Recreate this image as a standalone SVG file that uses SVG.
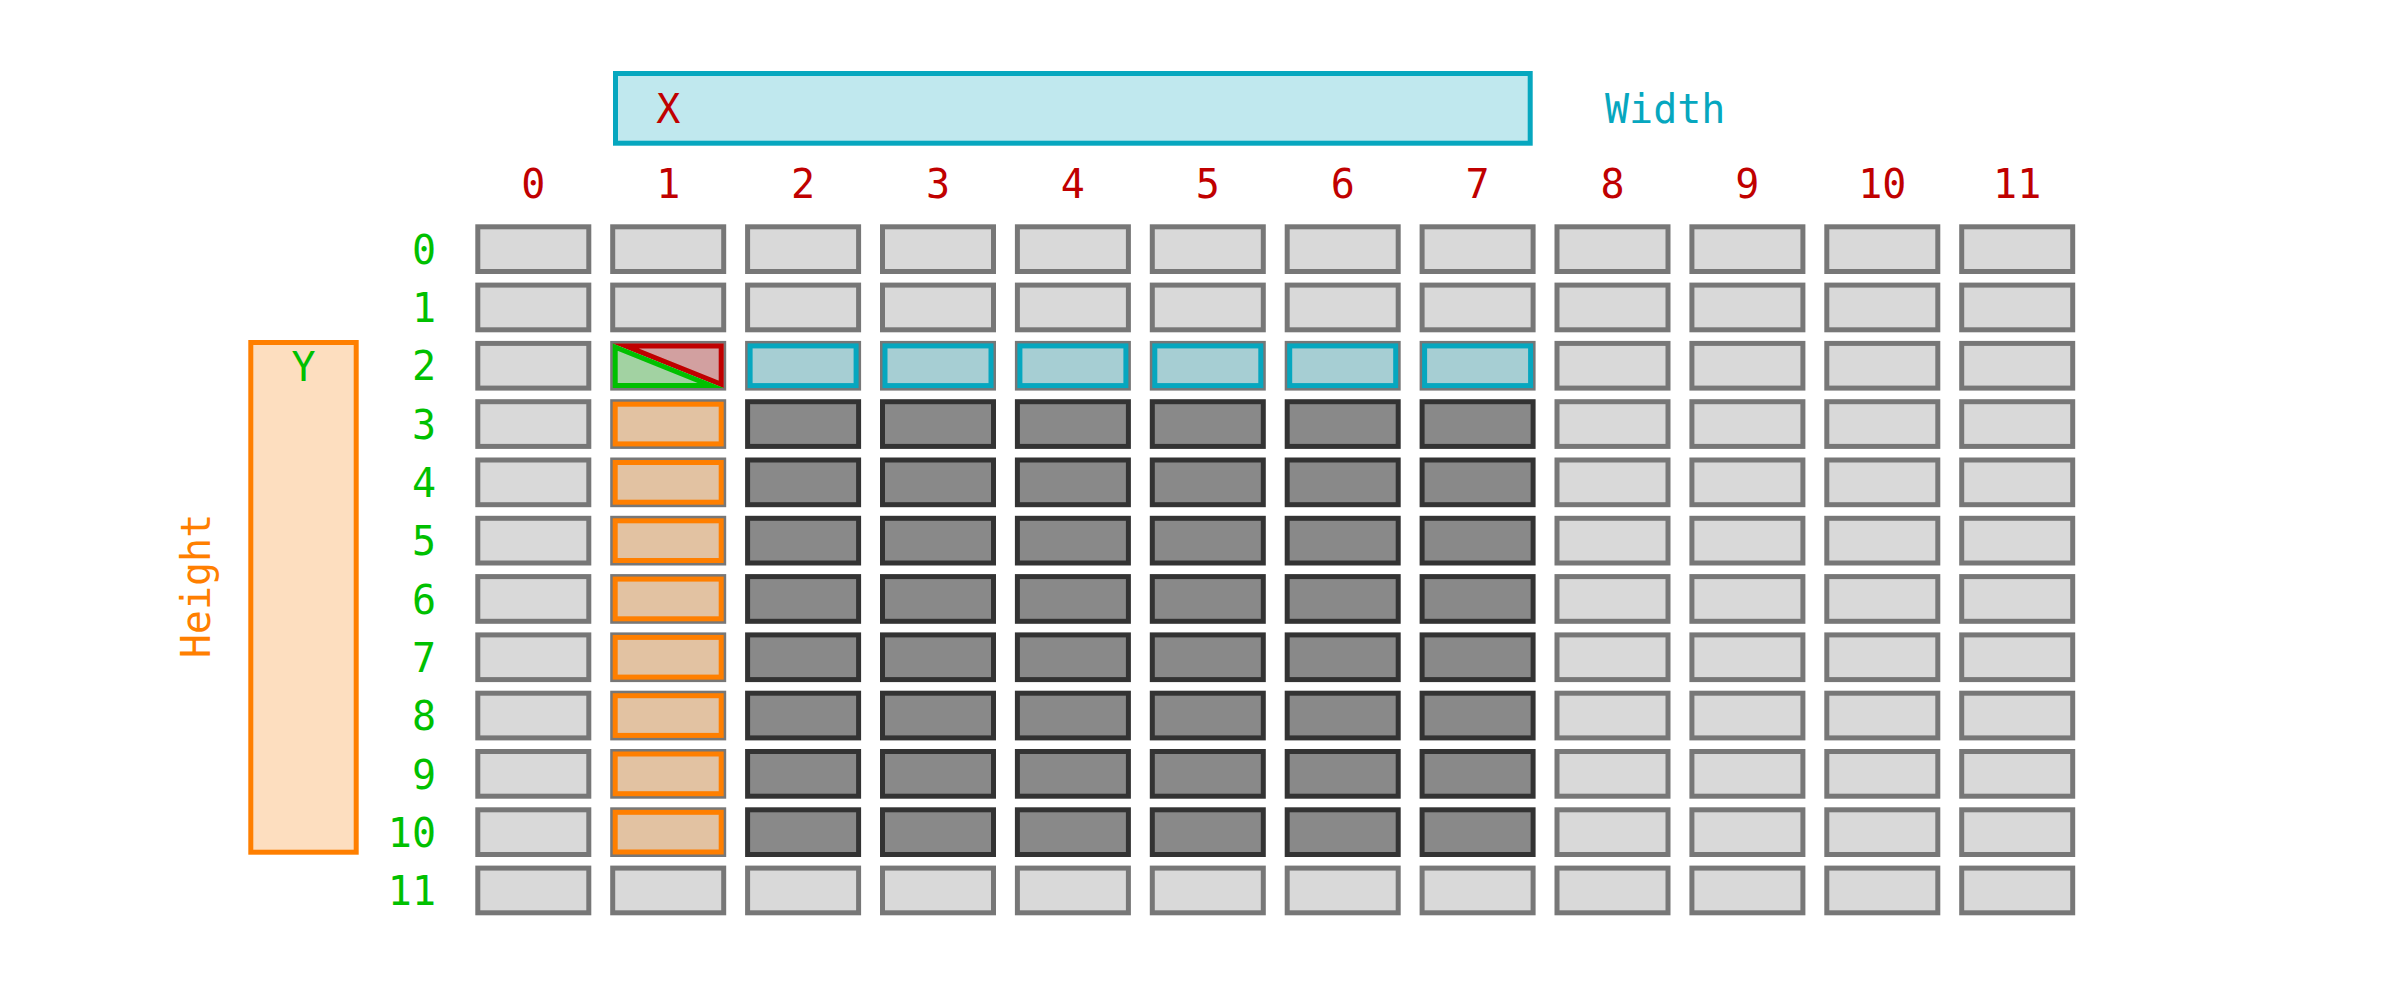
<svg xmlns="http://www.w3.org/2000/svg" width="2407" height="988" viewBox="0 0 2407 988">
<style>
text{font-family:"DejaVu Sans Mono","Liberation Mono",monospace;font-size:40px}
.c{fill:#d9d9d9;stroke:#777;stroke-width:5}
.d{fill:#898989;stroke:#333;stroke-width:5}
.b{fill:#a6ced3;stroke:#06a7bf;stroke-width:5}
.o{fill:#e2c2a2;stroke:#ff7f00;stroke-width:5}
.cl{fill:#c00000;text-anchor:middle}
.rl{fill:#00c000;text-anchor:end}
</style>
<defs>
<clipPath id="clipR"><polygon points="612.7,343.4 723.7,343.4 723.7,388.1"/></clipPath>
<clipPath id="clipG"><polygon points="612.7,343.4 612.7,388.1 723.7,388.1"/></clipPath>
</defs>
<rect width="2407" height="988" fill="#fff"/>
<g id="xbox"><rect x="615.5" y="73.5" width="914.7" height="69.7" fill="#c0e8ee" stroke="#06a7bf" stroke-width="5"/><text x="668.2" y="122.7" class="cl">X</text></g>
<g id="width-label"><text x="1605" y="122.7" fill="#06a7bf">Width</text></g>
<g id="ybox"><rect x="250.8" y="342.5" width="105.4" height="509.7" fill="#fddebf" stroke="#ff7f00" stroke-width="5"/><text x="303.5" y="380.6" fill="#00c000" text-anchor="middle">Y</text></g>
<g id="height-label"><text transform="translate(210,586) rotate(-90)" fill="#ff7f00" text-anchor="middle">Height</text></g>
<g id="col-labels">
<text x="533.3" y="197.7" class="cl">0</text><text x="668.2" y="197.7" class="cl">1</text><text x="803.1" y="197.7" class="cl">2</text><text x="938" y="197.7" class="cl">3</text><text x="1072.9" y="197.7" class="cl">4</text><text x="1207.8" y="197.7" class="cl">5</text><text x="1342.7" y="197.7" class="cl">6</text><text x="1477.6" y="197.7" class="cl">7</text><text x="1612.5" y="197.7" class="cl">8</text><text x="1747.4" y="197.7" class="cl">9</text><text x="1882.3" y="197.7" class="cl">10</text><text x="2017.2" y="197.7" class="cl">11</text>
</g>
<g id="row-labels">
<text x="436" y="263.8" class="rl">0</text><text x="436" y="322.1" class="rl">1</text><text x="436" y="380.4" class="rl">2</text><text x="436" y="438.7" class="rl">3</text><text x="436" y="497" class="rl">4</text><text x="436" y="555.3" class="rl">5</text><text x="436" y="613.6" class="rl">6</text><text x="436" y="671.9" class="rl">7</text><text x="436" y="730.2" class="rl">8</text><text x="436" y="788.5" class="rl">9</text><text x="436" y="846.8" class="rl">10</text><text x="436" y="905.1" class="rl">11</text>
</g>
<g id="row0"><rect x="477.8" y="226.8" width="111" height="44.7" class="c"/><rect x="612.7" y="226.8" width="111" height="44.7" class="c"/><rect x="747.6" y="226.8" width="111" height="44.7" class="c"/><rect x="882.5" y="226.8" width="111" height="44.7" class="c"/><rect x="1017.4" y="226.8" width="111" height="44.7" class="c"/><rect x="1152.3" y="226.8" width="111" height="44.7" class="c"/><rect x="1287.2" y="226.8" width="111" height="44.7" class="c"/><rect x="1422.1" y="226.8" width="111" height="44.7" class="c"/><rect x="1557" y="226.8" width="111" height="44.7" class="c"/><rect x="1691.9" y="226.8" width="111" height="44.7" class="c"/><rect x="1826.8" y="226.8" width="111" height="44.7" class="c"/><rect x="1961.7" y="226.8" width="111" height="44.7" class="c"/></g>
<g id="row1"><rect x="477.8" y="285.1" width="111" height="44.7" class="c"/><rect x="612.7" y="285.1" width="111" height="44.7" class="c"/><rect x="747.6" y="285.1" width="111" height="44.7" class="c"/><rect x="882.5" y="285.1" width="111" height="44.7" class="c"/><rect x="1017.4" y="285.1" width="111" height="44.7" class="c"/><rect x="1152.3" y="285.1" width="111" height="44.7" class="c"/><rect x="1287.2" y="285.1" width="111" height="44.7" class="c"/><rect x="1422.1" y="285.1" width="111" height="44.7" class="c"/><rect x="1557" y="285.1" width="111" height="44.7" class="c"/><rect x="1691.9" y="285.1" width="111" height="44.7" class="c"/><rect x="1826.8" y="285.1" width="111" height="44.7" class="c"/><rect x="1961.7" y="285.1" width="111" height="44.7" class="c"/></g>
<g id="row2"><rect x="477.8" y="343.4" width="111" height="44.7" class="c"/><rect x="612.7" y="343.4" width="111" height="44.7" class="c"/><rect x="747.6" y="343.4" width="111" height="44.7" class="c"/><rect x="882.5" y="343.4" width="111" height="44.7" class="c"/><rect x="1017.4" y="343.4" width="111" height="44.7" class="c"/><rect x="1152.3" y="343.4" width="111" height="44.7" class="c"/><rect x="1287.2" y="343.4" width="111" height="44.7" class="c"/><rect x="1422.1" y="343.4" width="111" height="44.7" class="c"/><rect x="1557" y="343.4" width="111" height="44.7" class="c"/><rect x="1691.9" y="343.4" width="111" height="44.7" class="c"/><rect x="1826.8" y="343.4" width="111" height="44.7" class="c"/><rect x="1961.7" y="343.4" width="111" height="44.7" class="c"/>
<rect x="750.1" y="345.9" width="106" height="39.7" class="b"/><rect x="885" y="345.9" width="106" height="39.7" class="b"/><rect x="1019.9" y="345.9" width="106" height="39.7" class="b"/><rect x="1154.8" y="345.9" width="106" height="39.7" class="b"/><rect x="1289.7" y="345.9" width="106" height="39.7" class="b"/><rect x="1424.6" y="345.9" width="106" height="39.7" class="b"/>
<g id="origin-cell"><polygon points="612.7,343.4 723.7,343.4 723.7,388.1" fill="#d2a0a0" stroke="#c00000" stroke-width="10" clip-path="url(#clipR)"/><polygon points="612.7,343.4 612.7,388.1 723.7,388.1" fill="#a2d2a2" stroke="#00c000" stroke-width="10" clip-path="url(#clipG)"/></g>
</g>
<g id="row3"><rect x="477.8" y="401.7" width="111" height="44.7" class="c"/><rect x="612.7" y="401.7" width="111" height="44.7" class="c"/><rect x="615.2" y="404.2" width="106" height="39.7" class="o"/><rect x="747.6" y="401.7" width="111" height="44.7" class="d"/><rect x="882.5" y="401.7" width="111" height="44.7" class="d"/><rect x="1017.4" y="401.7" width="111" height="44.7" class="d"/><rect x="1152.3" y="401.7" width="111" height="44.7" class="d"/><rect x="1287.2" y="401.7" width="111" height="44.7" class="d"/><rect x="1422.1" y="401.7" width="111" height="44.7" class="d"/><rect x="1557" y="401.7" width="111" height="44.7" class="c"/><rect x="1691.9" y="401.7" width="111" height="44.7" class="c"/><rect x="1826.8" y="401.7" width="111" height="44.7" class="c"/><rect x="1961.7" y="401.7" width="111" height="44.7" class="c"/></g>
<g id="row4"><rect x="477.8" y="460" width="111" height="44.7" class="c"/><rect x="612.7" y="460" width="111" height="44.7" class="c"/><rect x="615.2" y="462.5" width="106" height="39.7" class="o"/><rect x="747.6" y="460" width="111" height="44.7" class="d"/><rect x="882.5" y="460" width="111" height="44.7" class="d"/><rect x="1017.4" y="460" width="111" height="44.7" class="d"/><rect x="1152.3" y="460" width="111" height="44.7" class="d"/><rect x="1287.2" y="460" width="111" height="44.7" class="d"/><rect x="1422.1" y="460" width="111" height="44.7" class="d"/><rect x="1557" y="460" width="111" height="44.7" class="c"/><rect x="1691.9" y="460" width="111" height="44.7" class="c"/><rect x="1826.8" y="460" width="111" height="44.7" class="c"/><rect x="1961.7" y="460" width="111" height="44.7" class="c"/></g>
<g id="row5"><rect x="477.8" y="518.3" width="111" height="44.7" class="c"/><rect x="612.7" y="518.3" width="111" height="44.7" class="c"/><rect x="615.2" y="520.8" width="106" height="39.7" class="o"/><rect x="747.6" y="518.3" width="111" height="44.7" class="d"/><rect x="882.5" y="518.3" width="111" height="44.7" class="d"/><rect x="1017.4" y="518.3" width="111" height="44.7" class="d"/><rect x="1152.3" y="518.3" width="111" height="44.7" class="d"/><rect x="1287.2" y="518.3" width="111" height="44.7" class="d"/><rect x="1422.1" y="518.3" width="111" height="44.7" class="d"/><rect x="1557" y="518.3" width="111" height="44.7" class="c"/><rect x="1691.9" y="518.3" width="111" height="44.7" class="c"/><rect x="1826.8" y="518.3" width="111" height="44.7" class="c"/><rect x="1961.7" y="518.3" width="111" height="44.7" class="c"/></g>
<g id="row6"><rect x="477.8" y="576.6" width="111" height="44.7" class="c"/><rect x="612.7" y="576.6" width="111" height="44.7" class="c"/><rect x="615.2" y="579.1" width="106" height="39.7" class="o"/><rect x="747.6" y="576.6" width="111" height="44.7" class="d"/><rect x="882.5" y="576.6" width="111" height="44.7" class="d"/><rect x="1017.4" y="576.6" width="111" height="44.7" class="d"/><rect x="1152.3" y="576.6" width="111" height="44.7" class="d"/><rect x="1287.2" y="576.6" width="111" height="44.7" class="d"/><rect x="1422.1" y="576.6" width="111" height="44.7" class="d"/><rect x="1557" y="576.6" width="111" height="44.7" class="c"/><rect x="1691.9" y="576.6" width="111" height="44.7" class="c"/><rect x="1826.8" y="576.6" width="111" height="44.7" class="c"/><rect x="1961.7" y="576.6" width="111" height="44.7" class="c"/></g>
<g id="row7"><rect x="477.8" y="634.9" width="111" height="44.7" class="c"/><rect x="612.7" y="634.9" width="111" height="44.7" class="c"/><rect x="615.2" y="637.4" width="106" height="39.7" class="o"/><rect x="747.6" y="634.9" width="111" height="44.7" class="d"/><rect x="882.5" y="634.9" width="111" height="44.7" class="d"/><rect x="1017.4" y="634.9" width="111" height="44.7" class="d"/><rect x="1152.3" y="634.9" width="111" height="44.7" class="d"/><rect x="1287.2" y="634.9" width="111" height="44.7" class="d"/><rect x="1422.1" y="634.9" width="111" height="44.7" class="d"/><rect x="1557" y="634.9" width="111" height="44.7" class="c"/><rect x="1691.9" y="634.9" width="111" height="44.7" class="c"/><rect x="1826.8" y="634.9" width="111" height="44.7" class="c"/><rect x="1961.7" y="634.9" width="111" height="44.7" class="c"/></g>
<g id="row8"><rect x="477.8" y="693.2" width="111" height="44.7" class="c"/><rect x="612.7" y="693.2" width="111" height="44.7" class="c"/><rect x="615.2" y="695.7" width="106" height="39.7" class="o"/><rect x="747.6" y="693.2" width="111" height="44.7" class="d"/><rect x="882.5" y="693.2" width="111" height="44.7" class="d"/><rect x="1017.4" y="693.2" width="111" height="44.7" class="d"/><rect x="1152.3" y="693.2" width="111" height="44.7" class="d"/><rect x="1287.2" y="693.2" width="111" height="44.7" class="d"/><rect x="1422.1" y="693.2" width="111" height="44.7" class="d"/><rect x="1557" y="693.2" width="111" height="44.7" class="c"/><rect x="1691.9" y="693.2" width="111" height="44.7" class="c"/><rect x="1826.8" y="693.2" width="111" height="44.7" class="c"/><rect x="1961.7" y="693.2" width="111" height="44.7" class="c"/></g>
<g id="row9"><rect x="477.8" y="751.5" width="111" height="44.7" class="c"/><rect x="612.7" y="751.5" width="111" height="44.7" class="c"/><rect x="615.2" y="754" width="106" height="39.7" class="o"/><rect x="747.6" y="751.5" width="111" height="44.7" class="d"/><rect x="882.5" y="751.5" width="111" height="44.7" class="d"/><rect x="1017.4" y="751.5" width="111" height="44.7" class="d"/><rect x="1152.3" y="751.5" width="111" height="44.7" class="d"/><rect x="1287.2" y="751.5" width="111" height="44.7" class="d"/><rect x="1422.1" y="751.5" width="111" height="44.7" class="d"/><rect x="1557" y="751.5" width="111" height="44.7" class="c"/><rect x="1691.9" y="751.5" width="111" height="44.7" class="c"/><rect x="1826.8" y="751.5" width="111" height="44.7" class="c"/><rect x="1961.7" y="751.5" width="111" height="44.7" class="c"/></g>
<g id="row10"><rect x="477.8" y="809.8" width="111" height="44.7" class="c"/><rect x="612.7" y="809.8" width="111" height="44.7" class="c"/><rect x="615.2" y="812.3" width="106" height="39.7" class="o"/><rect x="747.6" y="809.8" width="111" height="44.7" class="d"/><rect x="882.5" y="809.8" width="111" height="44.7" class="d"/><rect x="1017.4" y="809.8" width="111" height="44.7" class="d"/><rect x="1152.3" y="809.8" width="111" height="44.7" class="d"/><rect x="1287.2" y="809.8" width="111" height="44.7" class="d"/><rect x="1422.1" y="809.8" width="111" height="44.7" class="d"/><rect x="1557" y="809.8" width="111" height="44.7" class="c"/><rect x="1691.9" y="809.8" width="111" height="44.7" class="c"/><rect x="1826.8" y="809.8" width="111" height="44.7" class="c"/><rect x="1961.7" y="809.8" width="111" height="44.7" class="c"/></g>
<g id="row11"><rect x="477.8" y="868.1" width="111" height="44.7" class="c"/><rect x="612.7" y="868.1" width="111" height="44.7" class="c"/><rect x="747.6" y="868.1" width="111" height="44.7" class="c"/><rect x="882.5" y="868.1" width="111" height="44.7" class="c"/><rect x="1017.4" y="868.1" width="111" height="44.7" class="c"/><rect x="1152.3" y="868.1" width="111" height="44.7" class="c"/><rect x="1287.2" y="868.1" width="111" height="44.7" class="c"/><rect x="1422.1" y="868.1" width="111" height="44.7" class="c"/><rect x="1557" y="868.1" width="111" height="44.7" class="c"/><rect x="1691.9" y="868.1" width="111" height="44.7" class="c"/><rect x="1826.8" y="868.1" width="111" height="44.7" class="c"/><rect x="1961.7" y="868.1" width="111" height="44.7" class="c"/></g>
</svg>
